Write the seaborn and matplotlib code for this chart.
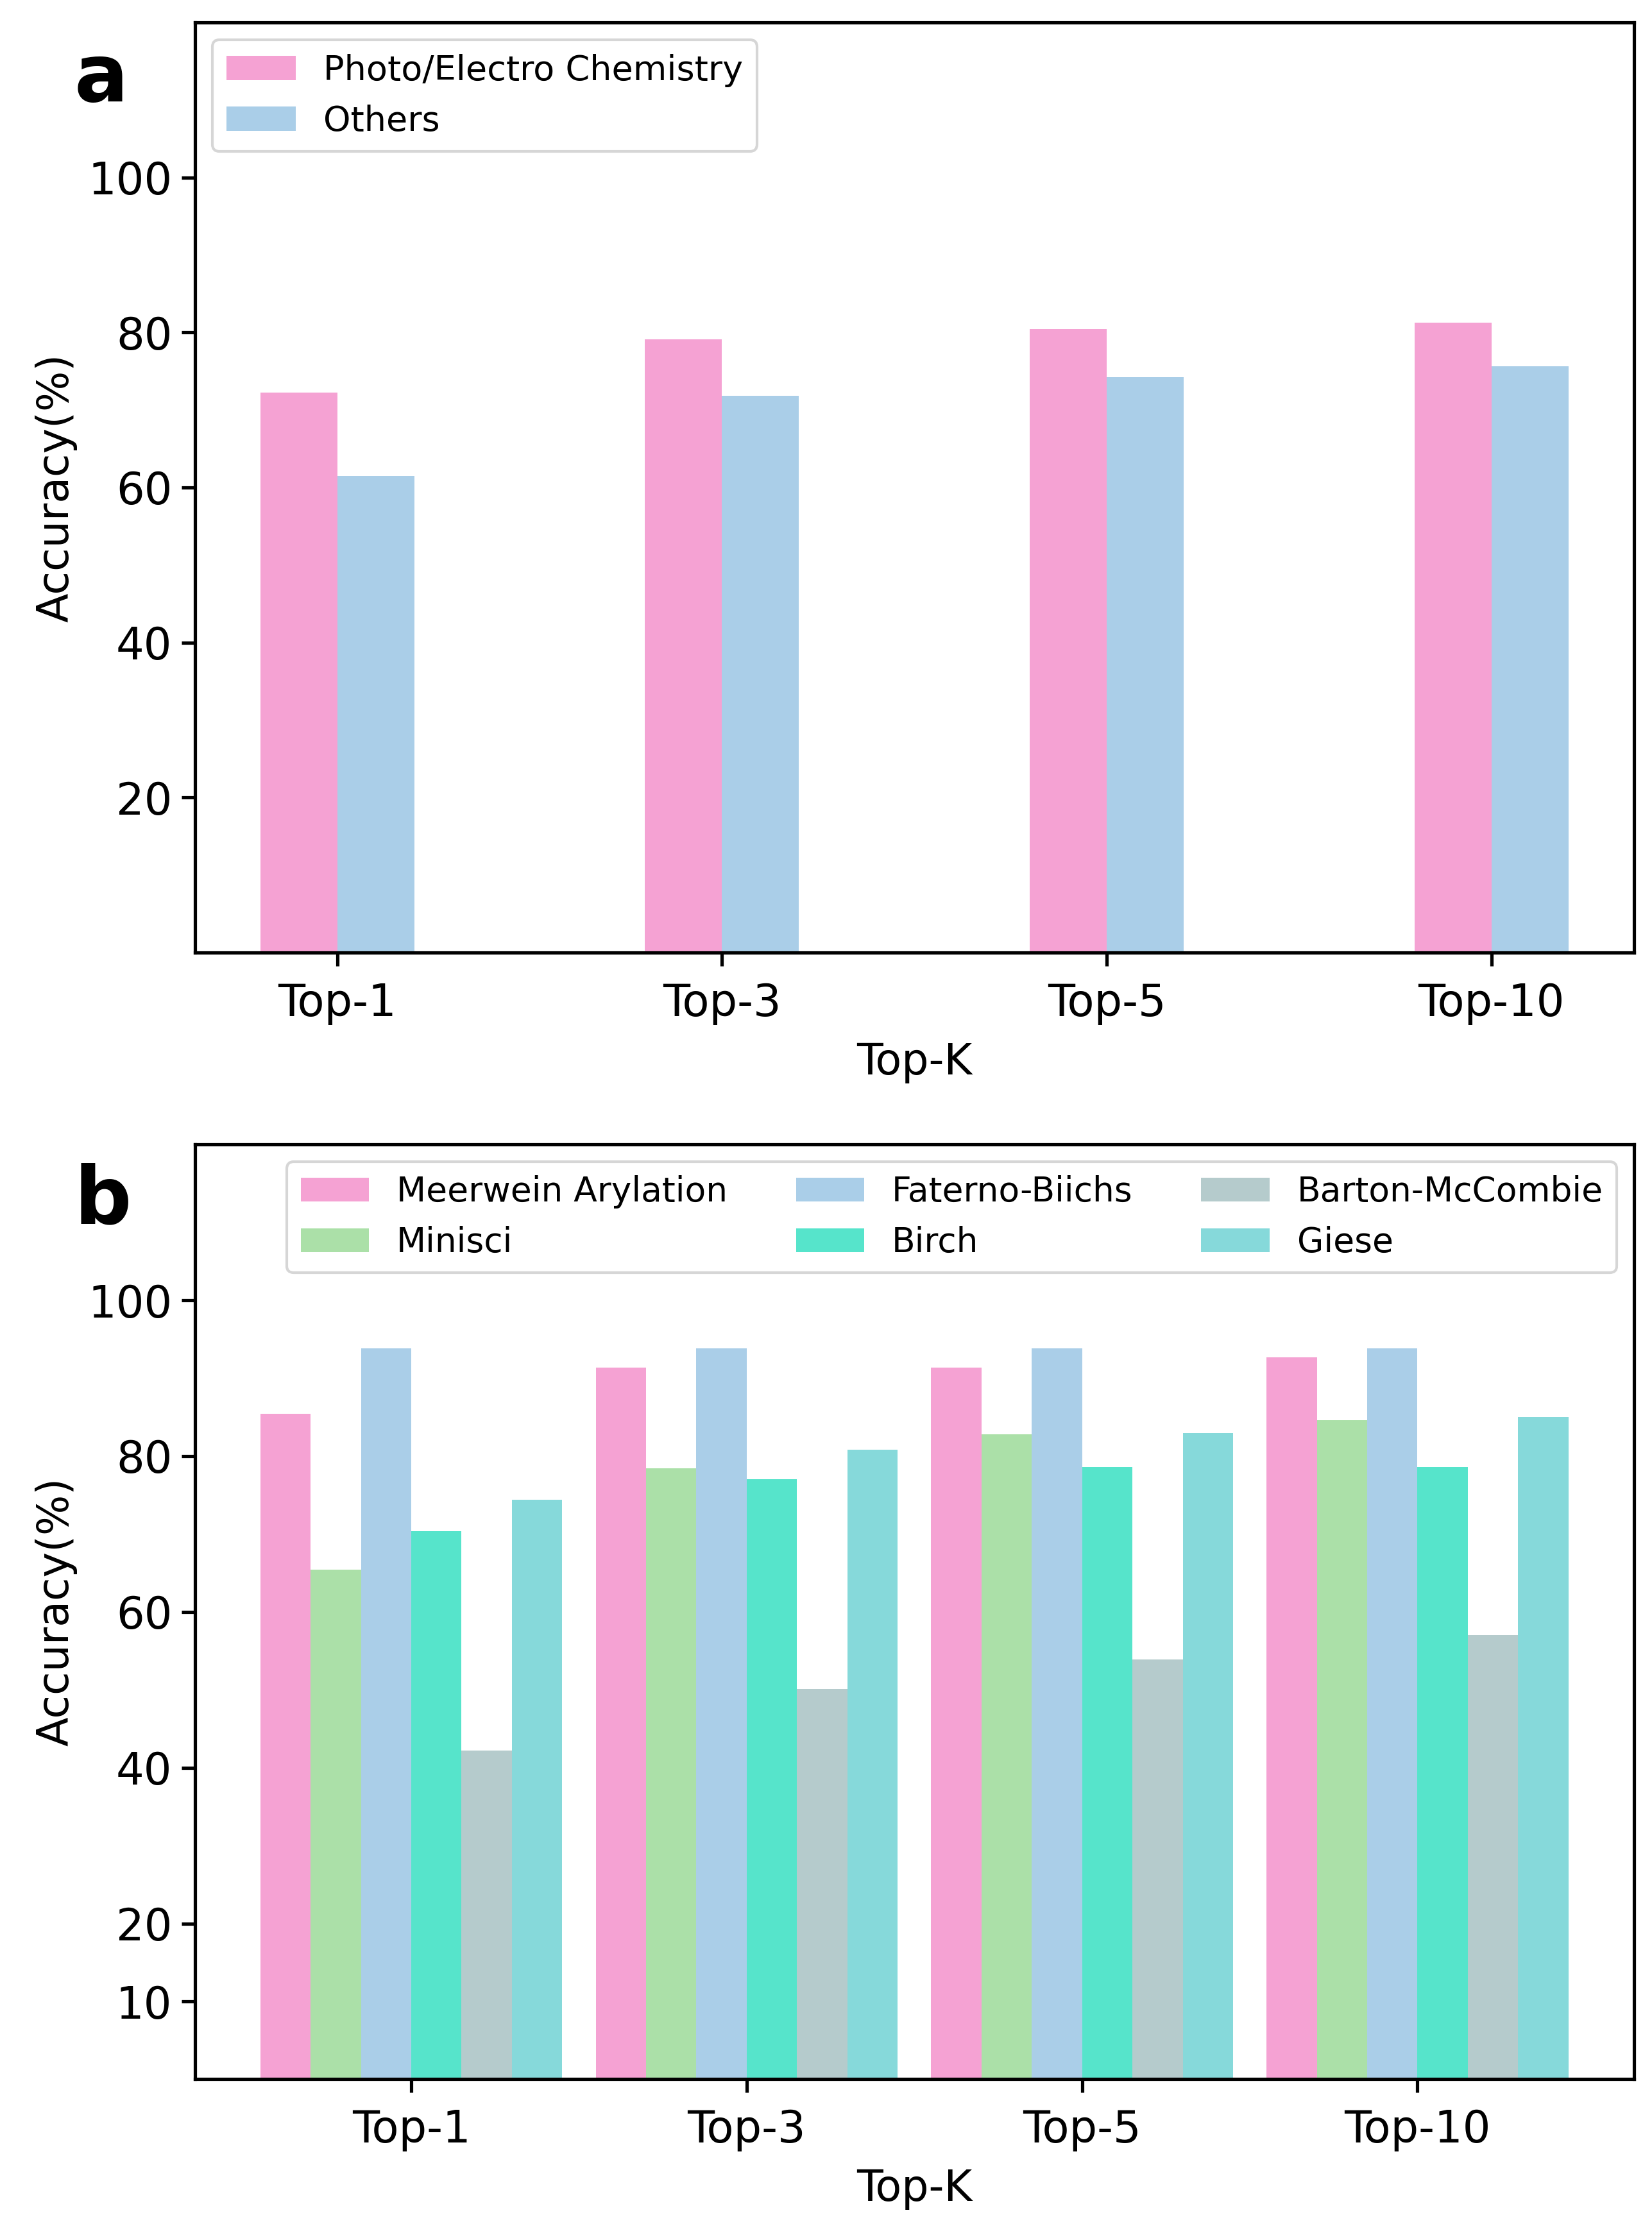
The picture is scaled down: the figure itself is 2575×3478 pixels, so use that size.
import pandas as pd
import matplotlib.pyplot as plt
import seaborn as sns

# values
topk = ['Top-1', 'Top-3', 'Top-5', 'Top-10']

# panel a
photo_electro = [72.2, 79.1, 80.4, 81.3]
others = [61.5, 71.8, 74.2, 75.6]

# panel b
meerwein = [85.4, 91.4, 91.4, 92.7]
minisci = [65.4, 78.4, 82.8, 84.6]
faterno = [93.8, 93.8, 93.8, 93.8]
birch = [70.4, 77.0, 78.6, 78.6]
barton = [42.2, 50.1, 53.9, 57.0]
giese = [74.4, 80.8, 83.0, 85.0]

names_a = ['Photo/Electro Chemistry', 'Others']
names_b = ['Meerwein Arylation', 'Minisci', 'Faterno-Biichs', 'Birch',
           'Barton-McCombie', 'Giese']

colors_a = ['#F5A2D3', '#AACEE8']
colors_b = ['#F5A2D3', '#ABE0A8', '#AACEE8', '#56E4CB', '#B5CBCC', '#86D9DA']

# -----------------------------------------------
# build long tables for seaborn
# -----------------------------------------------
df_a = pd.DataFrame({
    'Top-K': topk * 2,
    'Accuracy': photo_electro + others,
    'Group': [names_a[0]] * 4 + [names_a[1]] * 4,
})

series_b = [meerwein, minisci, faterno, birch, barton, giese]
df_b = pd.DataFrame({
    'Top-K': topk * len(series_b),
    'Accuracy': sum(series_b, []),
    'Group': [n for n in names_b for _ in topk],
})

sns.set_style('ticks', {'axes.edgecolor': 'black', 'text.color': 'black',
                        'axes.labelcolor': 'black', 'xtick.color': 'black',
                        'ytick.color': 'black'})
plt.rcParams['font.family'] = ['DejaVu Sans']
plt.rcParams['axes.linewidth'] = 1.25
plt.rcParams['xtick.major.width'] = 1.25
plt.rcParams['ytick.major.width'] = 1.25
plt.rcParams['xtick.major.size'] = 5
plt.rcParams['ytick.major.size'] = 5
plt.rcParams['xtick.major.pad'] = 6

fig = plt.figure(figsize=(2575 / 300, 3478 / 300), dpi=300)
ax_a = fig.add_axes([0.118, 0.573, 0.871, 0.417])
ax_b = fig.add_axes([0.118, 0.068, 0.871, 0.419])

# -----------------------------------------------
# panel a
# -----------------------------------------------
sns.barplot(data=df_a, x='Top-K', y='Accuracy', hue='Group', hue_order=names_a,
            palette=colors_a, width=0.4, saturation=1, errorbar=None,
            linewidth=0, ax=ax_a)
ax_a.set_xlim(-0.37, 3.37)
ax_a.set_ylim(0, 120)
ax_a.set_yticks([20, 40, 60, 80, 100])
sns.move_legend(ax_a, 'upper left', title=None, fontsize=13, frameon=True)

# -----------------------------------------------
# panel b
# -----------------------------------------------
sns.barplot(data=df_b, x='Top-K', y='Accuracy', hue='Group', hue_order=names_b,
            palette=colors_b, width=0.9, saturation=1, errorbar=None,
            linewidth=0, ax=ax_b)
ax_b.set_xlim(-0.645, 3.645)
ax_b.set_ylim(0, 120)
ax_b.set_yticks([10, 20, 40, 60, 80, 100])
sns.move_legend(ax_b, 'upper right', ncol=3, title=None, fontsize=12.8,
                frameon=True)

for ax, letter in [(ax_a, 'a'), (ax_b, 'b')]:
    ax.set_xlabel('Top-K', fontsize=16, labelpad=6)
    ax.set_ylabel('Accuracy(%)', fontsize=16)
    ax.tick_params(labelsize=16.5)
    for s in ax.spines.values():
        s.set_visible(True)
        s.set_color('black')
    pos = ax.get_position()
    fig.text(0.045, pos.y1 - 0.008, letter, fontsize=30, fontweight='bold',
             ha='left', va='top')

fig.savefig('out.png', dpi=300)
print("Saved: out.png")
